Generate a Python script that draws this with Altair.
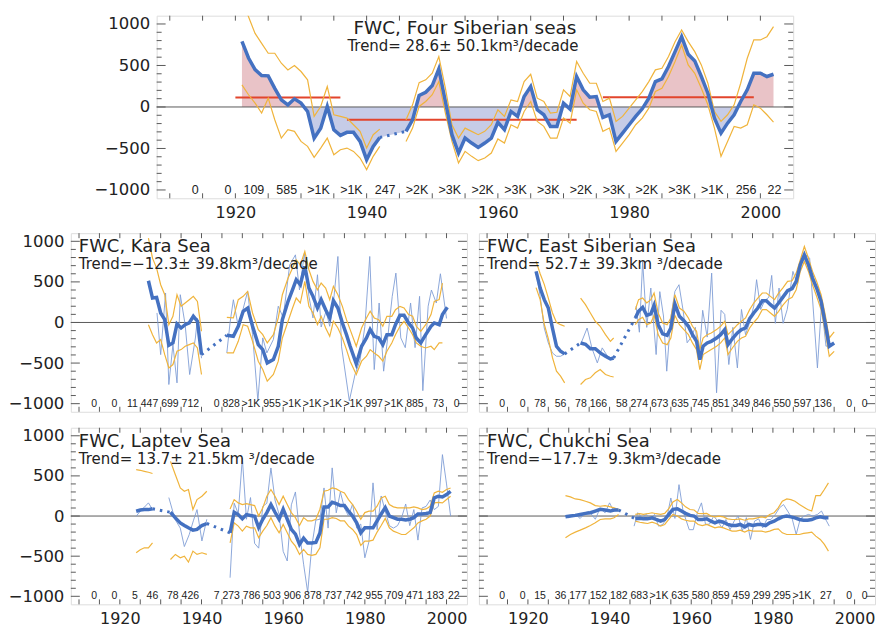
import altair as alt
import pandas as pd

# ---------------- data ----------------
X_DOMAIN = [1908, 2005]
Y_DOMAIN = [-1100, 1100]
X_LABELS = [1920, 1940, 1960, 1980, 2000]
Y_LABELS = [-1000, -500, 0, 500, 1000]
BIN_STARTS = list(range(1910, 2005, 5))

# Four Siberian seas (top)
top_years = list(range(1921, 1943)) + [None] + list(range(1946, 2003))
top_thick = [790, 590, 450, 380, 375, 225, 86, 25, 98, 46, -54, -375, -255, 6, -274, -343, -306, -306, -415, -635, -475, -367,
             None,
             -294, -154, 138, 178, 258, 459, 66, -334, -555, -375, -435, -487, -435, -375, -185, -274, -54, -114, 126, 246,
             -34, -94, -234, -234, 46, -26, 367, 207, 118, 126, -126, -94, -415, -315, -214, -114, -22, 106, 306, 339,
             487, 667, 847, 635, 555, 367, 166, -134, -315, -195, -94, 66, 207, 406, 406, 367, 394]
top_upper = [1300, 1088, 887, 767, 647, 647, 527, 447, 499, 427, 327, -114, 6, 246, -94, -114, -134, -214, -294, -495, -334, -267,
             None,
             -154, 26, 294, 327, 406, 607, 226, -214, -375, -255, -294, -334, -294, -214, -34, -114, 86, 66, 306, 394,
             106, 66, -74, -64, 207, 126, 547, 406, 286, 286, 66, 106, -174, -114, -14, 86, 186, 306, 447, 467,
             607, 787, 928, 787, 667, 507, 286, -54, -174, -94, 26, 286, 587, 808, 808, 847, 968]
top_lower = [267, 147, 46, -74, 106, -154, -375, -274, -294, -415, -475, -607, -495, -375, -575, -515, -495, -535, -615, -755, -595, -475,
             None,
             -415, -255, 6, 66, 147, 306, -74, -415, -675, -535, -595, -647, -615, -555, -385, -435, -214, -254, -54, 66,
             -174, -234, -375, -375, -134, -195, 207, 46, -34, -54, -294, -254, -535, -435, -334, -214, -134, -14, 186, 226,
             367, 547, 747, 507, 406, 226, 26, -254, -595, -415, -234, -254, -214, 26, -14, -94, -182]
top_counts = ["0", "0", "109", "585", ">1K", ">1K", "247", ">2K", ">3K", ">2K", ">3K", ">3K", ">2K", ">3K", ">2K", ">3K", ">1K", "256", "22"]
red_start = [1920, 1937, 1976]
red_end = [1936, 1972, 1999]
red_value = [114, -154, 118]

# Kara Sea
kara_years = list(range(1927, 1941)) + [None] + [
    1946.2, 1947.8, 1949.0, 1950.2, 1951.3, 1952.5, 1953.9, 1955.0, 1956.1, 1957.6, 1958.8, 1959.8, 1961.2, 1962.3, 1963.2,
    1964.2, 1965.3, 1966.3, 1967.3, 1968.4, 1969.3, 1970.4, 1971.4, 1972.3, 1973.4, 1974.5, 1975.5, 1976.4, 1977.9, 1979.2,
    1980.4, 1981.3, 1982.3, 1983.4, 1984.4, 1985.4, 1986.6, 1987.5, 1988.6, 1989.6, 1990.7, 1991.7, 1992.6, 1993.7, 1994.9,
    1996.2, 1997.0, 1998.2, 1999.0, 2000.2]
kara_thick = [514, 301, 309, 117, 35, -281, -252, -18, -68, -27, -6, 76, 15, -396, None,
              -157, -170, -47, 138, 178, -47, -273, -334, -498, -457, -293, 35, 261, 404, 527, 465, 691, 424, 322, 178,
              281, 158, 56, 268, 178, -6, -150, -293, -510, -293, -191, -88, -170, -191, -273, -150, -150, -27, 88, 88,
              -6, -68, -191, -252, -150, -47, -6, -27, 97, 187]
kara_upper = [1039, 793, 670, 465, 342, -27, 76, 342, 199, 240, 281, 322, 260, -108, None,
              64, 56, 281, 322, 383, 117, -88, -150, -252, -150, 56, 342, 547, 670, 772, 710, 875, 650, 506, 404,
              486, 424, 281, 445, 342, 199, 35, -88, -293, -68, 56, 138, 56, 35, -47, 76, 76, 158, 199, 178,
              97, 76, -47, -108, -27, 97, 260, 281, 486, None]
kara_lower = [-27, -150, -252, -211, -396, -559, -518, -355, -334, -293, -273, -252, -314, -641, None,
              -375, -375, -232, -27, -47, -232, -477, -580, -723, -641, -477, -191, 15, 178, 301, 240, 506, 199, 117, -27,
              76, -68, -170, 15, -68, -191, -334, -477, -641, -477, -416, -334, -375, -416, -477, -355, -252, -150, -47, 15,
              -68, -150, -252, -293, -314, -293, -334, -252, -252, None]
kara_thin_years = [1929.1, 1930.0, 1931.2, 1932.0, 1933.0, 1934.0, 1934.8, 1936.0, 1937.1, 1938.5, 1939.0, 1940.0, None,
                   1946.2, 1947.0, 1947.8, 1949.0, 1950.0, 1951.3, 1952.5, 1953.8, 1955.0, 1956.0, 1957.6, 1958.8, 1960.0,
                   1961.6, 1963.0, 1964.0, 1965.2, 1966.3, 1967.3, 1968.4, 1969.3, 1970.5, 1971.4, 1972.3, 1973.4, 1974.3,
                   1976.2, 1977.6, 1978.8, 1980.0, 1981.2, 1982.3, 1983.5, 1984.6, 1985.6, 1986.7, 1987.6, 1988.8, 1989.9,
                   1991.2, 1992.3, 1993.4, 1994.2, 1995.5, 1996.3, 1997.5, 1998.5, 2000.0]
kara_thin = [117, -396, 363, -764, -273, -744, 342, -30, -641, -191, 50, -440, None,
             -375, 0, 280, -50, 130, 383, -150, -965, -190, -375, -210, 200, 60, 710, 833, 400, 854, 322, 56, 588, -56,
             138, -47, 240, 813, -300, -965, -640, -470, -50, 813, -580, 240, -600, -190, 320, 608, -190, -310, 240,
             -310, 322, -840, 200, 400, 240, 600, 50]
kara_counts = ["0", "0", "11", "447", "699", "712", "0", "828", ">1K", "955", ">1K", ">1K", ">1K", ">1K", "997", ">1K", "885", "73", "0"]

# East Siberian Sea
es_years = list(range(1922, 1930)) + [None] + [1932.9, 1934.1, 1935.3, 1936.5, 1937.7, 1939.0, 1940.2, 1941.0] + [None] + [
    1946.3, 1947.1, 1948.1, 1949.1, 1950.1, 1950.9, 1951.9, 1953.0, 1954.1, 1955.0, 1956.0, 1957.1, 1958.2, 1959.3, 1960.3,
    1961.3, 1962.1, 1962.9, 1963.9, 1964.9, 1966.2, 1967.2, 1968.2, 1969.0, 1970.2, 1971.3, 1972.3, 1973.3, 1974.3, 1975.3,
    1976.3, 1977.4, 1978.4, 1979.4, 1980.4, 1981.4, 1982.4, 1983.6, 1984.7, 1985.7, 1986.7, 1987.7, 1988.7, 1989.7, 1990.7,
    1991.8, 1992.8, 1993.8, 1995.0]
es_thick = [629, 424, 281, 178, -68, -293, -355, -387, None,
            -252, -268, -324, -324, -375, -416, -449, -437, None,
            55, 138, 187, 88, 105, 211, -27, -141, -158, -68, 227, 76, 22, -47, -150, -232, -457, -293, -252, -232,
            -191, -150, -88, -273, -191, -129, -88, -68, 47, 117, 178, 268, 268, 219, 178, 240, 309, 391, 416, 506,
            711, 834, 711, 547, 424, 260, -6, -293, -252]
es_upper = [755, 600, 470, 300, 120, 0, -27, -47, None,
            301, 219, 117, 15, -47, -150, -232, -191, None,
            158, 281, 301, 240, 281, 363, 117, -6, -27, 56, 342, 178, 138, 56, -47, -108, -334, -191, -150, -129,
            -88, -47, 15, -150, -88, -27, 15, 56, 158, 240, 301, 363, 363, 322, 281, 363, 424, 506, 514, 608,
            772, 936, 793, 629, 506, 342, 97, -191, -117]
es_lower = [430, 281, -20, -200, -430, -600, -661, -744, None,
            -764, -703, -682, -620, -580, -641, -662, -672, None,
            -27, 35, 64, -27, -6, 88, -150, -252, -273, -191, 88, -27, -88, -150, -252, -334, -580, -395, -364, -334,
            -293, -252, -191, -395, -305, -232, -191, -170, -68, 0, 56, 158, 158, 117, 76, 138, 211, 281, 309, 404,
            629, 752, 629, 465, 322, 158, -108, -416, -355]
es_thin_years = [1922, 1923, 1924, 1925, 1926, 1927, 1928, 1929, None,
                 1932.9, 1934.5, 1935.7, 1937.0, 1938.2, 1939.5, 1940.5, None,
                 1946.5, 1947.3, 1948.1, 1949.1, 1950.1, 1951.4, 1952.3, 1953.2, 1954.0, 1955.0, 1956.0, 1957.0, 1958.0,
                 1959.0, 1960.0, 1961.0, 1961.9, 1962.8, 1963.9, 1965.0, 1966.2, 1967.3, 1968.2, 1969.2, 1970.2, 1971.3,
                 1972.3, 1973.3, 1974.3, 1975.3, 1976.0, 1977.0, 1978.0, 1979.0, 1979.7, 1980.6, 1981.5, 1982.5, 1983.5,
                 1984.9, 1986.0, 1987.0, 1988.0, 1989.0, 1990.9, 1991.9, 1993.0, 1994.0]
es_thin = [629, 322, -68, -252, -375, -416, -416, -387, None,
           -272, -68, -320, -498, -313, -416, -440, None,
           200, -120, 752, -60, 424, -395, 380, 80, -600, 60, 383, 465, 150, -250, -180, -60, -457, 150, -180, 608,
           -866, 150, 100, -518, -60, -560, 160, -150, 0, 200, 527, 160, 270, 310, 580, -10, 424, -10, 160, 629,
           465, 793, 834, 793, -560, 220, -293, -273]
es_counts = ["0", "0", "78", "56", "78", "166", "58", "274", "673", "635", "745", "851", "349", "846", "550", "597", "136", "0", "0"]

# Laptev Sea
lap_years = list(range(1924, 1929)) + [None] + [1932.4, 1933.6, 1934.8, 1935.8, 1936.8, 1937.9, 1938.9, 1940.1, 1941.3] + [None] + list(range(1947, 2002))
lap_thick = [60, 75, 80, 80, 90, None,
             47, -23, -85, -118, -147, -176, -167, -118, -93, None,
             -209, 47, 18, -35, 18, 6, -2, -143, -40, 43, 143, 47, -40, 85, -40, -165, -225, -354, -275, -337,
             -337, -330, -212, 114, 114, 171, 155, 130, 130, 60, 0, -85, -209, -147, -147, -147, -60, 25, 105, 0,
             -20, -40, -40, -48, -40, -20, 25, 25, 31, 43, 226, 247, 238, 267, 308]
lap_upper = [578, 570, 557, 545, 530, None,
             681, 515, 350, 309, 330, 81, 205, 247, 309, None,
             89, 205, 164, 143, 155, 143, 130, 0, 102, 247, 330, 247, 143, 247, 143, 43, -20, -118, -20, -60,
             -60, -40, 85, 309, 321, 350, 338, 309, 288, 205, 143, 60, -40, 43, 60, 60, 122, 226, 247, 143,
             114, 102, 102, 102, 102, 114, 102, 81, 89, 122, 288, 309, 296, 330, 350]
lap_lower = [-458, -420, -396, -396, -334, None,
             -541, -478, -520, -500, -574, -437, -478, -458, -478, None,
             -334, -85, -126, -188, -126, -147, -147, -271, -188, -118, -20, -126, -209, -105, -209, -312, -375, -478, -416, -478,
             -490, -478, -396, -40, -40, -20, -30, -60, -60, -126, -167, -230, -367, -313, -313, -300, -200, -118, -30, -147,
             -188, -209, -230, -230, -188, -147, -85, -60, -40, 0, 164, 170, 164, 205, 247]
lap_thin_years = list(range(1924, 1929)) + [None] + [1932.0, 1933.5, 1934.8, 1935.8, 1937.0, 1938.0, 1938.9, 1940.1, 1941.3] + [None] + list(range(1947, 2002))
lap_thin = [-2, 60, 110, 164, 81, None,
            230, -40, -150, -380, -230, -60, 80, -310, -40, None,
            -768, 160, 30, 723, -40, 230, -340, -400, 120, 160, 599, 200, 20, -440, -560, 140, 300, -210, -600, -950,
            -380, -50, -40, 350, -150, 600, 40, 300, 100, 0, 150, -150, -100, -520, -320, 413, -170, 250, 60, -120,
            -150, -120, -20, 150, -120, 80, -300, 100, 120, 200, 80, 120, 765, 400, 0]
lap_counts = ["0", "0", "5", "46", "78", "426", "7", "273", "786", "503", "906", "878", "737", "742", "955", "709", "471", "183", "22"]

# Chukchi Sea
chu_years = [1929.2, 1930.4, 1931.6, 1932.8, 1934.1, 1935.3, 1936.5, 1937.7, 1938.9, 1940.2, 1941.1, 1942.2, None,
             1946.3, 1947.4, 1948.3, 1949.3, 1950.4, 1951.4, 1952.5, 1953.5, 1954.5, 1955.5, 1956.6, 1957.6, 1958.6,
             1959.7, 1960.7, 1961.7, 1962.7, 1963.8, 1964.8, 1965.8, 1966.8, 1967.9, 1968.9, 1970.0, 1971.0, 1972.0,
             1973.1, 1974.1, 1975.1, 1976.2, 1977.2, 1978.2, 1979.2, 1980.3, 1981.3, 1982.3, 1983.4, 1984.4, 1985.4,
             1986.5, 1987.5, 1988.5, 1989.5, 1990.5, 1991.6, 1992.6, 1993.6]
chu_thick = [-10, 0, 8, 20, 33, 41, 62, 83, 75, 62, 75, 75, None,
             -35, -27, -35, -35, -22, -43, -64, -43, 20, 83, 91, 62, 33, 8, 0, -43, -43, -35, -64, -85,
             -64, -77, -105, -118, -118, -105, -135, -105, -118, -105, -105, -118, -85, -64, -35, -10, 0, -10, -22, -43,
             -52, -52, -43, -22, -10, -22, -22]
chu_upper = [255, 238, 213, 205, 184, 164, 130, 122, 130, 114, 102, 81, None,
             20, 29, 20, 29, 41, 29, 20, 33, 91, 174, 205, 164, 114, 81, 75, 33, 29, 33, 0, -10,
             0, -10, -35, -43, -43, -35, -52, -35, -35, -22, -10, -22, 20, 41, 102, 184, 213, 205, 184, 143,
             114, 81, 62, 255, 255, 330, 413]
chu_lower = [-271, -230, -200, -176, -147, -118, -85, -43, -35, -35, -22, 20, None,
             -64, -77, -85, -93, -77, -93, -126, -105, -43, 20, 0, -35, -52, -64, -64, -105, -118, -105, -126, -147,
             -135, -147, -167, -188, -188, -176, -200, -176, -188, -188, -188, -200, -188, -167, -159, -209, -230, -230, -230, -230,
             -217, -209, -200, -250, -292, -354, -437]
chu_thin_years = [1929, 1930, 1931.6, 1932.8, 1934, 1935, 1936.5, 1937.7, 1938.9, 1940, 1941, 1942, None,
                  1946, 1946.9, 1947.9, 1949, 1950, 1951, 1952, 1953, 1954, 1955, 1956, 1957, 1958, 1959.5, 1960.5,
                  1961.5, 1962.5, 1963.5, 1964.5, 1965.5, 1966.5, 1967.5, 1968.5, 1969.5, 1970.5, 1971.5, 1972.5, 1973.5,
                  1974.5, 1975.5, 1976.5, 1977.5, 1978.5, 1979.5, 1980.6, 1981.6, 1982.6, 1983.6, 1984.7, 1985.7, 1986.7,
                  1987.7, 1988.7, 1989.8, 1990.9, 1991.9, 1993.0, 1993.8]
chu_thin = [0, -20, 20, -30, 40, 60, -40, 100, 40, 164, 62, 70, None,
            -126, 41, -20, 20, -50, 20, -126, -105, -30, 225, -30, 391, 62, -170, -170, 41, 164, -105, -100, 0,
            -64, -147, -43, -170, -64, 0, -188, -20, -292, -64, -35, -147, -43, -43, 20, 102, 143, 62, -30, -230,
            -35, 0, 20, 0, 20, 62, -50, -126]
chu_counts = ["0", "0", "15", "36", "177", "152", "182", "683", ">1K", "635", "580", "859", "459", "299", "295", ">1K", "27", "0", "0"]

# ---------------- styling ----------------
FONT = "DejaVu Sans"
CNT_FONT = "Liberation Sans Narrow, Liberation Sans, DejaVu Sans"
TXT = "#222222"
FRAME = "#5a5a5a"
THICK = "#4471c1"
THIN = "#7f9ed6"
ORANGE = "#f0b43c"
RED = "#e2452c"
POS = "#e9c3c7"
NEG = "#c6cce7"
NBSP = "\u00a0"


def seg_frame(years, values):
    rows, seg = [], 0
    for yr, v in zip(years, values):
        if yr is None or v is None:
            seg += 1
            continue
        rows.append({"year": yr, "value": v, "seg": seg})
    return pd.DataFrame(rows)


def connector_frame(years, values):
    segs, cur = [], []
    for yr, v in zip(years, values):
        if yr is None or v is None:
            if cur:
                segs.append(cur)
            cur = []
        else:
            cur.append((yr, v))
    if cur:
        segs.append(cur)
    rows = []
    for i in range(len(segs) - 1):
        a, b = segs[i][-1], segs[i + 1][0]
        rows.append({"year": a[0], "value": a[1], "seg": i})
        rows.append({"year": b[0], "value": b[1], "seg": i})
    return pd.DataFrame(rows)


def fill_frame(years, values):
    pts = [(x, v) for x, v in zip(years, values) if x is not None and v is not None]
    out = []
    for i, (x, v) in enumerate(pts):
        if i > 0:
            x0, v0 = pts[i - 1]
            if v0 * v < 0:
                out.append((x0 + (x - x0) * v0 / (v0 - v), 0.0))
        out.append((x, v))
    df = pd.DataFrame(out, columns=["year", "value"])
    df["pos"] = df["value"].clip(lower=0)
    df["neg"] = df["value"].clip(upper=0)
    df["z"] = 0.0
    return df


def make_panel(title, trend, years, thick, upper, lower, thin_years, thin, counts,
               w, h, xlab, ylab, cnt_size, title_pos, trend_pos, title_align, title_size=18,
               fill=False, reds=None, anchors=()):
    xs = alt.Scale(domain=X_DOMAIN, nice=False, zero=False)
    ys = alt.Scale(domain=Y_DOMAIN, nice=False, zero=False)
    xax = alt.Axis(values=X_LABELS, format="d", labelFont=FONT, labelFontSize=16, labelColor=TXT,
                   ticks=False, tickSize=0, domain=False, grid=False, labelPadding=6,
                   labelFlush=False, title=None) if xlab else None
    yax = alt.Axis(values=Y_LABELS, format="d", labelFont=FONT, labelFontSize=16.5, labelColor=TXT,
                   ticks=False, tickSize=0, domain=False, grid=False, labelPadding=7,
                   title=None) if ylab else None

    def X(f):
        return alt.X(f, type="quantitative", scale=xs, axis=xax)

    def Y(f):
        return alt.Y(f, type="quantitative", scale=ys, axis=yax)

    layers = []
    if fill:
        fdf = fill_frame(years, thick)
        layers.append(alt.Chart(fdf).mark_area(color=POS, opacity=1).encode(x=X("year"), y=Y("pos"), y2="z"))
        layers.append(alt.Chart(fdf).mark_area(color=NEG, opacity=1).encode(x=X("year"), y=Y("neg"), y2="z"))

    zdf = pd.DataFrame({"v": [0]})
    layers.append(alt.Chart(zdf).mark_rule(color=FRAME, strokeWidth=1).encode(y=Y("v")))

    if reds is not None:
        rdf = pd.DataFrame({"x0": reds[0], "x1": reds[1], "v": reds[2]})
        layers.append(alt.Chart(rdf).mark_rule(color=RED, strokeWidth=2).encode(x=X("x0"), x2="x1", y=Y("v")))

    if thin is not None:
        layers.append(alt.Chart(seg_frame(thin_years, thin)).mark_line(color=THIN, strokeWidth=0.9, clip=True)
                      .encode(x=X("year"), y=Y("value"), detail="seg:N"))
    for series in (upper, lower):
        layers.append(alt.Chart(seg_frame(years, series)).mark_line(color=ORANGE, strokeWidth=1.2, clip=True)
                      .encode(x=X("year"), y=Y("value"), detail="seg:N"))
    layers.append(alt.Chart(connector_frame(years, thick)).mark_line(color=THICK, strokeWidth=3, strokeDash=[2.5, 5], clip=True)
                  .encode(x=X("year"), y=Y("value"), detail="seg:N"))
    layers.append(alt.Chart(seg_frame(years, thick)).mark_line(color=THICK, strokeWidth=3.5, clip=True)
                  .encode(x=X("year"), y=Y("value"), detail="seg:N"))

    # inward ticks on all four sides
    ytk = pd.DataFrame({"v": list(range(-1000, 1001, 100))})
    ytk["major"] = ytk["v"] % 500 == 0
    maj = ytk[ytk["major"]]
    mnr = ytk[~ytk["major"]]
    for df, ln in ((maj, 9), (mnr, 5)):
        layers.append(alt.Chart(df).mark_rule(color=FRAME, strokeWidth=1)
                      .encode(y=Y("v"), x=alt.value(0), x2=alt.value(ln)))
        layers.append(alt.Chart(df).mark_rule(color=FRAME, strokeWidth=1)
                      .encode(y=Y("v"), x=alt.value(w), x2=alt.value(w - ln)))
    xtk = pd.DataFrame({"v": list(range(1910, 2005, 5))})
    layers.append(alt.Chart(xtk).mark_rule(color=FRAME, strokeWidth=1)
                  .encode(x=X("v"), y=alt.value(h), y2=alt.value(h - 5)))
    layers.append(alt.Chart(xtk).mark_rule(color=FRAME, strokeWidth=1)
                  .encode(x=X("v"), y=alt.value(0), y2=alt.value(5)))

    # sample counts per 5-year bin (right-aligned just before each bin end)
    cdf = pd.DataFrame({"x": [min(s + 4.4, 2003.2) for s in BIN_STARTS], "t": counts,
                        "y": [-1000] * len(counts)})
    layers.append(alt.Chart(cdf).mark_text(align="right", baseline="middle", font=CNT_FONT,
                                           fontSize=cnt_size, color=TXT)
                  .encode(x=X("x"), y=Y("y"), text="t:N"))

    layers.append(alt.Chart(pd.DataFrame({"t": [title]})).mark_text(
        align=title_align, baseline="middle", font=FONT, fontSize=title_size, color=TXT)
        .encode(x=alt.value(title_pos[0]), y=alt.value(title_pos[1]), text="t:N"))
    layers.append(alt.Chart(pd.DataFrame({"t": [trend]})).mark_text(
        align=title_align, baseline="middle", font=FONT, fontSize=15, color=TXT)
        .encode(x=alt.value(trend_pos[0]), y=alt.value(trend_pos[1]), text="t:N"))

    # invisible white anchors that fix the layout bounds
    dummy = pd.DataFrame({"a": [0]})
    for ax, ay in anchors:
        layers.append(alt.Chart(dummy).mark_rule(color="white", strokeWidth=1)
                      .encode(x=alt.value(ax), x2=alt.value(ax + 1), y=alt.value(ay), y2=alt.value(ay)))

    return alt.layer(*layers).properties(width=w, height=h)


PW = 397  # lower panel width

top = make_panel("FWC, Four Siberian seas", "Trend= 28.6\u00b1 50.1km\u00b3/decade",
                 top_years, top_thick, top_upper, top_lower, None, None, top_counts,
                 638, 183, True, True, 12.5, (309, 12), (307, 30), "center", title_size=18.5,
                 fill=True, reds=(red_start, red_end, red_value),
                 anchors=[(-70, -10), (-70, 216)])
kara = make_panel("FWC, Kara Sea", "Trend=\u221212.3\u00b1 39.8km\u00b3/decade",
                  kara_years, kara_thick, kara_upper, kara_lower, kara_thin_years, kara_thin, kara_counts,
                  PW, 179, False, True, 10.5, (8, 14), (8, 31), "left", anchors=[(-66, 1)])
es = make_panel("FWC, East Siberian Sea", "Trend= 52.7\u00b1 39.3km" + NBSP + "\u00b3/decade",
                es_years, es_thick, es_upper, es_lower, es_thin_years, es_thin, es_counts,
                PW, 179, False, False, 10.5, (8, 14), (8, 31), "left")
lap = make_panel("FWC, Laptev Sea", "Trend= 13.7\u00b1 21.5km" + NBSP + "\u00b3/decade",
                 lap_years, lap_thick, lap_upper, lap_lower, lap_thin_years, lap_thin, lap_counts,
                 PW, 177, True, True, 10.5, (8, 14), (8, 31), "left", anchors=[(-66, -14)])
chu = make_panel("FWC, Chukchi Sea", "Trend=\u221217.7\u00b1" + NBSP + NBSP + "9.3km\u00b3/decade",
                 chu_years, chu_thick, chu_upper, chu_lower, chu_thin_years, chu_thin, chu_counts,
                 PW, 177, True, False, 10.5, (8, 14), (8, 31), "left", anchors=[(2, -14)])

# spacer that shifts the top panel to the right (it is centred over the grid)
spacer = alt.Chart(pd.DataFrame({"a": [0]})).mark_rule(color="white", strokeWidth=1).encode(
    x=alt.value(0), x2=alt.value(14), y=alt.value(0), y2=alt.value(0)
).properties(width=14, height=10, view=alt.ViewBackground(stroke="transparent"))

row0 = alt.hconcat(spacer, top, spacing=0)
row1 = alt.hconcat(kara, es, spacing=10)
row2 = alt.hconcat(lap, chu, spacing=10)
chart = alt.vconcat(row0, row1, row2, spacing=0).properties(
    padding={"left": 4, "top": 4, "right": 0, "bottom": 0}
).configure_view(stroke=FRAME, strokeWidth=1).configure(background="white")

chart.save("out.html", embed_options={"renderer": "svg", "actions": False})
